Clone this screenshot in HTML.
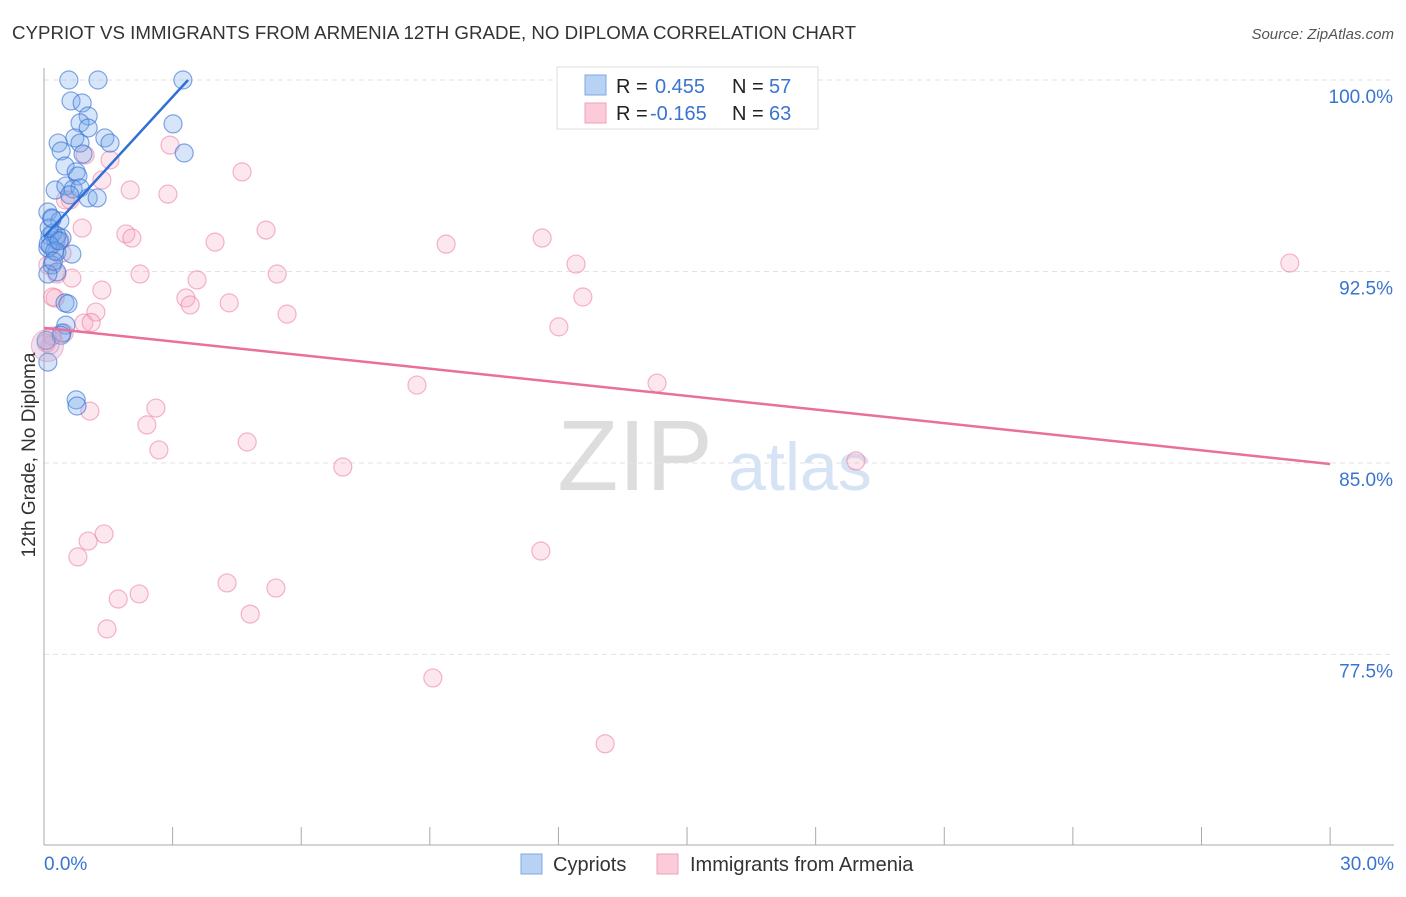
<!DOCTYPE html>
<html><head><meta charset="utf-8">
<style>
body{margin:0;background:#fff;font-family:"Liberation Sans",sans-serif;}
svg text{font-family:"Liberation Sans",sans-serif;}
</style></head>
<body>
<svg id="chart" width="1406" height="892" xmlns="http://www.w3.org/2000/svg">
<text x="12" y="39" font-size="18" fill="#333" textLength="844" lengthAdjust="spacingAndGlyphs">CYPRIOT VS IMMIGRANTS FROM ARMENIA 12TH GRADE, NO DIPLOMA CORRELATION CHART</text>
<text x="1394" y="39" font-size="15" fill="#555" text-anchor="end" font-style="italic">Source: ZipAtlas.com</text>
<g>
<text x="635" y="490" font-size="100" fill="#ddd" text-anchor="middle" font-family="Liberation Serif, serif">ZIP</text>
<text x="800" y="490" font-size="68" fill="#d5e3f5" text-anchor="middle">atlas</text>
</g>
<g id="grid"></g>
<g id="axes"></g>
<g id="marks"></g>
<g>
<rect x="557" y="67" width="261" height="62" fill="#fff" stroke="#ddd"/>
<rect x="585" y="75" width="21" height="20" fill="#b8d2f4" stroke="#7fa8e2"/>
<rect x="585" y="103" width="21" height="20" fill="#fccbd9" stroke="#f0a0b8"/>
<text x="616" y="93" font-size="20" fill="#222">R = </text><text x="655" y="93" font-size="20" fill="#3a74d0">0.455</text>
<text x="732" y="93" font-size="20" fill="#222">N = </text><text x="769" y="93" font-size="20" fill="#3a74d0">57</text>
<text x="616" y="120" font-size="20" fill="#222">R = </text><text x="650" y="120" font-size="20" fill="#3a74d0">-0.165</text>
<text x="732" y="120" font-size="20" fill="#222">N = </text><text x="769" y="120" font-size="20" fill="#3a74d0">63</text>
</g>
<g>
<rect x="521" y="854" width="21" height="20" fill="#b8d2f4" stroke="#7fa8e2"/>
<text x="553" y="871" font-size="20" fill="#333">Cypriots</text>
<rect x="657" y="854" width="21" height="20" fill="#fccbd9" stroke="#f0a0b8"/>
<text x="690" y="871" font-size="20" fill="#333">Immigrants from Armenia</text>
</g>
<text transform="translate(35,455) rotate(-90)" font-size="19" fill="#333" text-anchor="middle">12th Grade, No Diploma</text>
</svg>
<script>
const yTicks=[100,92.5,85,77.5];
const yTickLabels=["100.0%","92.5%","85.0%","77.5%"];
const xTickLabels=["0.0%","30.0%"];
const cypX=[0.58,1.26,3.24,0.63,0.89,1.03,0.84,3.01,1.03,0.72,1.42,0.33,0.84,1.54,0.40,0.91,3.27,0.49,0.75,0.79,0.26,0.51,0.68,0.84,1.03,1.24,0.09,0.19,0.37,0.14,0.28,0.42,0.09,0.30,0.65,0.19,0.30,0.09,0.49,0.56,0.51,0.42,0.09,0.75,0.77,0.2,0.1,0.3,0.15,0.12,0.25,0.35,0.05,0.22,0.4,0.6,0.18];
const cypY=[100,100,100,99.18,99.1,98.59,98.32,98.28,98.12,97.73,97.73,97.53,97.53,97.53,97.22,97.1,97.14,96.63,96.4,96.24,95.69,95.85,95.73,95.77,95.38,95.38,94.83,94.56,94.48,93.89,93.73,93.81,93.42,93.26,93.18,92.75,92.48,92.4,91.27,91.23,90.4,90.09,88.95,87.47,87.23,94.0,93.6,93.9,93.5,94.2,93.3,93.7,89.8,92.9,90.0,95.5,94.6];
const armX=[0.26,0.09,0.37,0.42,0.61,0.89,0.65,0.96,1.54,1.35,2.01,2.89,2.94,4.62,1.91,2.05,2.24,1.35,1.21,0.93,0.47,3.99,5.18,3.31,3.41,3.57,4.32,5.44,5.67,9.38,11.62,12.41,12.57,12.01,8.70,14.30,1.07,2.61,2.40,2.68,4.74,6.97,18.94,1.03,1.40,0.79,1.73,2.22,1.47,4.27,5.41,4.81,11.59,9.07,13.09,29.06,0.14,0.19,0.05,0.3,0.5,1.1,0.2];
const armY=[91.46,92.75,93.73,93.22,95.30,94.2,92.24,97.06,96.87,96.08,95.69,95.53,97.45,96.4,93.97,93.81,92.4,91.77,90.91,90.48,90.09,93.65,94.12,91.46,91.19,92.17,91.27,92.4,90.83,93.57,93.81,92.79,91.5,90.33,88.05,88.13,87.03,87.15,86.49,85.51,85.82,84.84,85.08,81.94,82.22,81.32,79.67,79.87,78.5,80.3,80.1,79.08,81.55,76.58,74.0,92.83,89.62,89.97,89.7,92.4,95.3,90.5,91.5];
const cypTrend=[[0,93.85],[3.36,100]];
const armTrend=[[0,90.29],[30,84.96]];
const xs=v=>44+v*42.87;
const ys=v=>80+(100-v)*25.53;
const NS="http://www.w3.org/2000/svg";
function mk(t,a,p){const e=document.createElementNS(NS,t);for(const k in a)e.setAttribute(k,a[k]);p.appendChild(e);return e;}
const grid=document.getElementById('grid'),axes=document.getElementById('axes'),marks=document.getElementById('marks');
yTicks.forEach((t,i)=>{
 const l=mk('line',{x1:44,x2:1394,y1:ys(t),y2:ys(t),stroke:'#e2e2e2','stroke-dasharray':'5,4'},grid);
 
 
 const tx=mk('text',{x:1393,y:ys(t)+23,'font-size':19,fill:'#3a74d0','text-anchor':'end'},axes);
 tx.textContent=yTickLabels[i];
 
 
});
const ax=mk('line',{x1:44,x2:44,y1:68,y2:845,stroke:'#aaa'},axes);


const bx=mk('line',{x1:44,x2:1394,y1:845,y2:845,stroke:'#aaa'},axes);


for(let i=1;i<=10;i++){const tk=mk('line',{x1:xs(i*3),x2:xs(i*3),y1:827,y2:845,stroke:'#aaa'},axes);
 
 }
[[0,'start'],[30,'end']].forEach((p,i)=>{const tx=mk('text',{x:i?1394:44,y:870,'font-size':19,fill:'#3a74d0','text-anchor':p[1]},axes);
 tx.textContent=xTickLabels[i];
 
 });
armX.forEach((x,i)=>{const c=mk('circle',{cx:xs(x),cy:ys(armY[i]),r:9,fill:'rgba(248,170,195,0.28)',stroke:'rgba(235,120,160,0.55)','stroke-width':1.2},marks);
 
 });
cypX.forEach((x,i)=>{const c=mk('circle',{cx:xs(x),cy:ys(cypY[i]),r:9,fill:'rgba(120,170,235,0.3)',stroke:'rgba(50,110,210,0.6)','stroke-width':1.2},marks);
 
 });
const big=mk('circle',{cx:xs(0.08),cy:ys(89.6),r:16,fill:'rgba(200,170,210,0.35)',stroke:'rgba(235,120,160,0.5)'},marks);


const t1=mk('line',{x1:xs(cypTrend[0][0]),y1:ys(cypTrend[0][1]),x2:xs(cypTrend[1][0]),y2:ys(cypTrend[1][1]),stroke:'#2f6fd6','stroke-width':2.5},marks);


const t2=mk('line',{x1:xs(armTrend[0][0]),y1:ys(armTrend[0][1]),x2:xs(armTrend[1][0]),y2:ys(armTrend[1][1]),stroke:'#e8709a','stroke-width':2.5},marks);


</script>
</body></html>
